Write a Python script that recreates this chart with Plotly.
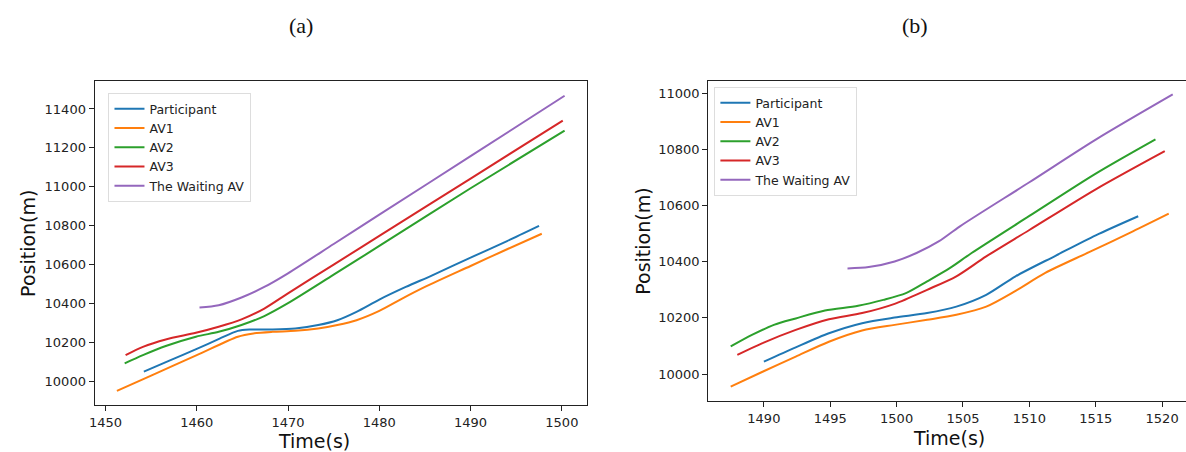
import plotly.graph_objects as go

# ---------------- Panel (a) data ----------------
a_part_t = [1454.2, 1457.0, 1460.0, 1462.5, 1464.5, 1465.8, 1468.3, 1470.8, 1473.3, 1475.4, 1477.5, 1480.0, 1482.9, 1485.8, 1490.0, 1494.0, 1497.5]
a_part_y = [10048, 10105, 10165, 10218, 10258, 10265, 10265, 10270, 10288, 10313, 10356, 10419, 10484, 10544, 10635, 10720, 10798]

a_av1_t = [1451.25, 1455.0, 1460.0, 1464.5, 1466.2, 1468.3, 1470.8, 1473.3, 1475.4, 1477.5, 1480.0, 1482.5, 1485.0, 1490.0, 1494.0, 1497.8]
a_av1_y = [9949, 10028, 10133, 10228, 10245, 10253, 10258, 10270, 10288, 10313, 10361, 10424, 10484, 10592, 10678, 10758]

a_av2_t = [1452.1, 1454.1, 1456.6, 1459.9, 1462.4, 1464.9, 1467.4, 1469.95, 1475.0, 1480.0, 1490.0, 1500.3]
a_av2_y = [10091, 10133, 10180, 10228, 10253, 10288, 10334, 10399, 10547, 10695, 10992, 11289]

a_av3_t = [1452.2, 1454.1, 1456.6, 1459.9, 1462.4, 1464.9, 1467.4, 1469.95, 1475.0, 1480.0, 1490.0, 1500.1]
a_av3_y = [10133, 10176, 10214, 10248, 10279, 10317, 10373, 10450, 10599, 10747, 11042, 11340]

a_wait_t = [1460.3, 1462.4, 1464.9, 1467.4, 1469.95, 1475.0, 1480.0, 1490.0, 1500.3]
a_wait_y = [10378, 10390, 10430, 10484, 10553, 10705, 10856, 11157, 11468]

# ---------------- Panel (b) data ----------------
b_part_t = [1490.0, 1492.4, 1494.9, 1497.4, 1499.85, 1502.3, 1504.5, 1506.75, 1508.96, 1512.0, 1515.0, 1518.2]
b_part_y = [10044, 10095, 10145, 10181, 10201, 10217, 10240, 10282, 10348, 10422, 10494, 10562]

b_av1_t = [1487.5, 1489.9, 1492.4, 1494.9, 1497.4, 1499.85, 1502.3, 1504.5, 1506.75, 1508.96, 1511.2, 1514.5, 1517.8, 1520.5]
b_av1_y = [9955, 10008, 10062, 10115, 10155, 10175, 10193, 10211, 10240, 10296, 10360, 10434, 10508, 10571]

b_av2_t = [1487.5, 1489.1, 1490.75, 1492.4, 1494.6, 1497.1, 1499.0, 1500.7, 1502.3, 1504.0, 1505.65, 1510.0, 1515.0, 1519.5]
b_av2_y = [10098, 10139, 10175, 10198, 10226, 10243, 10264, 10288, 10330, 10377, 10431, 10563, 10714, 10836]

b_av3_t = [1488.0, 1489.9, 1492.4, 1494.9, 1497.4, 1499.85, 1502.3, 1504.5, 1506.75, 1510.0, 1515.0, 1520.2]
b_av3_y = [10068, 10110, 10157, 10195, 10217, 10250, 10300, 10348, 10419, 10513, 10658, 10794]

b_wait_t = [1496.3, 1497.9, 1499.85, 1501.5, 1503.2, 1504.77, 1510.0, 1515.0, 1520.8]
b_wait_y = [10376, 10381, 10401, 10431, 10473, 10526, 10683, 10835, 10996]

names = ["Participant", "AV1", "AV2", "AV3", "The Waiting AV"]
colors = ["#1f77b4", "#ff7f0e", "#2ca02c", "#d62728", "#9467bd"]

panel_a = [(a_part_t, a_part_y), (a_av1_t, a_av1_y), (a_av2_t, a_av2_y), (a_av3_t, a_av3_y), (a_wait_t, a_wait_y)]
panel_b = [(b_part_t, b_part_y), (b_av1_t, b_av1_y), (b_av2_t, b_av2_y), (b_av3_t, b_av3_y), (b_wait_t, b_wait_y)]

W, H = 1186, 452

fig = go.Figure()
for (t, y), n, c in zip(panel_a, names, colors):
    fig.add_trace(go.Scatter(x=t, y=y, name=n, mode="lines",
                             line=dict(color=c, width=2, shape="spline", smoothing=0.8),
                             xaxis="x", yaxis="y", legend="legend"))
for (t, y), n, c in zip(panel_b, names, colors):
    fig.add_trace(go.Scatter(x=t, y=y, name=n, mode="lines",
                             line=dict(color=c, width=2, shape="spline", smoothing=0.8),
                             xaxis="x2", yaxis="y2", legend="legend2"))

tickfont = dict(family="DejaVu Sans", size=13, color="#222")
common = dict(showgrid=False, zeroline=False, showline=True, linecolor="#222", linewidth=1,
              ticks="outside", ticklen=5, tickcolor="#222", tickfont=tickfont, tickformat="d")

def px_x(p):
    return p / W

def px_y(p):
    return (H - p) / H

fig.update_layout(
    width=W, height=H,
    margin=dict(l=0, r=0, t=0, b=0),
    paper_bgcolor="white", plot_bgcolor="white",
    xaxis=dict(domain=[px_x(89), px_x(584)], range=[1448.8, 1502.76], dtick=10, tick0=1450,
               mirror=True, anchor="y", **common),
    yaxis=dict(domain=[px_y(405), px_y(81)], range=[9876.5, 11544], dtick=200, tick0=10000,
               mirror=True, anchor="x", **common),
    xaxis2=dict(domain=[px_x(705.7), 1.0], range=[1485.8, 1521.8], dtick=5, tick0=1490,
                mirror=True, anchor="y2", **common),
    yaxis2=dict(domain=[px_y(401), px_y(81)], range=[9903.8, 11043.8], dtick=200, tick0=10000,
                mirror=False, anchor="x2", **common),
    legend=dict(x=px_x(103), y=px_y(93), xanchor="left", yanchor="top",
                bgcolor="rgba(255,255,255,0.8)", bordercolor="#dddddd", borderwidth=1,
                font=dict(family="DejaVu Sans", size=12.5, color="#222"), tracegroupgap=0),
    legend2=dict(x=px_x(712), y=px_y(87), xanchor="left", yanchor="top",
                 bgcolor="rgba(255,255,255,0.8)", bordercolor="#dddddd", borderwidth=1,
                 font=dict(family="DejaVu Sans", size=12.5, color="#222"), tracegroupgap=0),
    showlegend=True,
)

title_font = dict(family="Liberation Serif", size=22, color="#111")
label_font = dict(family="DejaVu Sans", size=19, color="#111")
annos = [
    dict(text="(a)", x=px_x(296), y=px_y(25), font=title_font),
    dict(text="(b)", x=px_x(914), y=px_y(25), font=title_font),
    dict(text="Time(s)", x=px_x(310), y=px_y(441), font=label_font),
    dict(text="Time(s)", x=px_x(948), y=px_y(438), font=label_font),
    dict(text="Position(m)", x=px_x(22), y=px_y(243), font=label_font, textangle=-90),
    dict(text="Position(m)", x=px_x(640), y=px_y(241), font=label_font, textangle=-90),
]
for a in annos:
    fig.add_annotation(xref="paper", yref="paper", showarrow=False,
                       xanchor="center", yanchor="middle", **a)

fig.write_html("out.html", config={"displayModeBar": False},
               post_script="document.body.style.margin='0';document.body.style.overflow='hidden';")
